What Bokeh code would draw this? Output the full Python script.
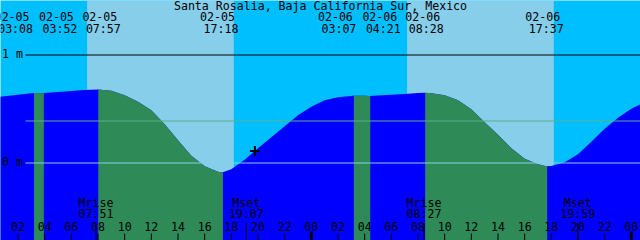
import numpy as np
from bokeh.plotting import figure
from bokeh.models import Range1d, ColumnDataSource
from bokeh.core.properties import value
from bokeh.embed import file_html
from bokeh.resources import INLINE

# ---------------- data ----------------
station = "Santa Rosalia, Baja California Sur, Mexico"
day_names = ["02-05", "02-06"]

# tide level read hourly, hours counted from 02-05 00:00
sample_hours = list(range(0, 50))
sample_heights = [
    0.600, 0.619, 0.632, 0.646, 0.647, 0.657, 0.667, 0.676, 0.681, 0.668,
    0.628, 0.568, 0.489, 0.359, 0.211, 0.068, -0.030, -0.082, -0.057, 0.031,
    0.137, 0.239, 0.341, 0.443, 0.521, 0.581, 0.609, 0.621, 0.622, 0.625,
    0.632, 0.640, 0.648, 0.646, 0.628, 0.581, 0.498, 0.378, 0.262, 0.137,
    0.040, -0.011, -0.028, 0.007, 0.081, 0.197, 0.318, 0.419, 0.503, 0.563,
]

# high / low tide events
event_day = [0, 0, 0, 0, 1, 1, 1, 1]
event_times = ["03:08", "03:52", "07:57", "17:18", "03:07", "04:21", "08:28", "17:37"]
event_types = ["High", "Low", "High", "Low", "High", "Low", "High", "Low"]
event_heights = [0.648, 0.646, 0.681, -0.087, 0.623, 0.620, 0.651, -0.031]

# sun
sun_day = [0, 1]
sunrise_times = ["07:11", "07:11"]
sunset_times = ["18:11", "18:11"]

# moon
moon_day = [0, 0, 1, 1]
moon_names = ["Mrise", "Mset", "Mrise", "Mset"]
moon_times = ["07:51", "19:07", "08:27", "19:59"]

# reference levels (m)
level_values = [0.0, 0.389, 1.0]
level_labels = ["0 m", "", "1 m"]

# hour ticks
tick_hours = list(range(2, 49, 2))
tick_labels = ["%02d" % (h % 24) for h in tick_hours]

now_day, now_time = 0, "19:46"

# ---------------- helpers ----------------
def to_hours(day, hhmm):
    hh, mm = hhmm.split(":")
    return day * 24 + int(hh) + int(mm) / 60.0

W, H = 640, 240
X0_PX = -9.167      # pixel column of 02-05 00:00
PX_PER_H = 13.3333
Y0_PX = 162.5       # pixel row of 0 m
PX_PER_M = 108.0
TXT_DY = -5.0       # baseline correction for text

def hx(px):
    return (px - X0_PX) / PX_PER_H

def my(py):
    return (Y0_PX - py) / PX_PER_M

def ty(py):
    return my(py + TXT_DY)

FONT = value("DejaVu Sans Mono")
FS = "11.6px"

ev_h = [to_hours(d, t) for d, t in zip(event_day, event_times)]
curve_h = np.array(sample_hours + ev_h, dtype=float)
curve_m = np.array(sample_heights + event_heights, dtype=float)
order = np.argsort(curve_h)
curve_h, curve_m = curve_h[order], curve_m[order]

xs0, xs1 = hx(0), hx(W)
ybot, ytop = my(H), my(0)

p = figure(width=W, height=H, x_range=Range1d(xs0, xs1), y_range=Range1d(ybot, ytop),
           output_backend="svg", toolbar_location=None, min_border=0,
           x_axis_location=None, y_axis_location=None, outline_line_color=None,
           background_fill_color="#00BFFF", border_fill_color="#00BFFF")
p.grid.visible = False

# daylight sky
rise_h = [to_hours(d, t) for d, t in zip(sun_day, sunrise_times)]
set_h = [to_hours(d, t) for d, t in zip(sun_day, sunset_times)]
p.quad(left=rise_h, right=set_h, bottom=ybot, top=ytop, fill_color="#87CEEB", line_color=None)

# water: whole area rising colour, falling stretches in sea green
def seg_area(a, b):
    inner = curve_h[(curve_h > a) & (curve_h < b)]
    xs = np.concatenate([[a], inner, [b]])
    ys = np.interp(xs, curve_h, curve_m)
    return xs, ys

xa, ya = seg_area(xs0 - 0.5, xs1 + 0.5)
p.varea(x=xa, y1=ybot, y2=ya, fill_color="#0000FF")
shift = 0.07
bounds = [xs0 - 0.5] + [h + shift for h in ev_h] + [xs1 + 0.5]
for i, et in enumerate(event_types):
    if et == "High":
        xa, ya = seg_area(bounds[i + 1], bounds[i + 2])
        p.varea(x=xa, y1=ybot, y2=ya, fill_color="#2E8B57")

# reference level lines
line_cols = ["#87CEEB", "#5FAE8C", "#000000"]
x_left = hx(25)
for lv, c in zip(level_values, line_cols):
    p.segment(x0=[x_left], y0=[lv], x1=[xs1], y1=[lv], line_color=c, line_width=1)
lab_src = ColumnDataSource(dict(x=[hx(1.5)] * 2,
                                y=[lv + ty(58.5) - my(54.5) for lv, l in zip(level_values, level_labels) if l],
                                t=[l for l in level_labels if l]))
p.text(x="x", y="y", text="t", source=lab_src, text_font=FONT, text_font_size=FS,
       text_color="black", text_align="left", text_baseline="alphabetic")

# hour ticks
p.segment(x0=tick_hours, y0=my(233), x1=tick_hours, y1=my(240), line_color="black", line_width=1)
mid = [h for h in tick_hours if h % 24 == 0]
p.segment(x0=mid, y0=my(231), x1=mid, y1=my(240), line_color="black", line_width=3)
p.text(x=tick_hours, y=ty(230.5), text=tick_labels, text_font=FONT, text_font_size=FS,
       text_color="black", text_align="center", text_baseline="alphabetic")

# moon
moon_h = [to_hours(d, t) for d, t in zip(moon_day, moon_times)]
p.segment(x0=moon_h, y0=my(223), x1=moon_h, y1=my(240), line_color="black", line_width=1)
p.text(x=moon_h, y=ty(207), text=moon_names, text_font=FONT, text_font_size=FS,
       text_color="black", text_align="center", text_baseline="alphabetic")
p.text(x=moon_h, y=ty(218.5), text=moon_times, text_font=FONT, text_font_size=FS,
       text_color="black", text_align="center", text_baseline="alphabetic")

# tide event labels (spread apart to avoid overlap)
label_dx = [-17.5, 17, 6, -1, -14, 14, 2, 0]
ev_src = ColumnDataSource(dict(x=ev_h, d=[day_names[d] for d in event_day], t=event_times,
                               dx=label_dx, dx2=[v - 3.5 for v in label_dx]))
p.text(x="x", y=ty(21), text="d", x_offset="dx2", source=ev_src, text_font=FONT, text_font_size=FS,
       text_color="black", text_align="center", text_baseline="alphabetic")
p.text(x="x", y=ty(33), text="t", x_offset="dx", source=ev_src, text_font=FONT, text_font_size=FS,
       text_color="black", text_align="center", text_baseline="alphabetic")

# title
p.text(x=[(xs0 + xs1) / 2], y=[ty(10.3)], text=[station], text_font=FONT, text_font_size=FS,
       text_color="black", text_align="center", text_baseline="alphabetic")

# current time marker
now_h = to_hours(now_day, now_time)
p.scatter(x=[now_h], y=[float(np.interp(now_h, curve_h, curve_m))], marker="cross", size=10,
          line_color="black", line_width=2)

open("out.html", "w").write(file_html(p, INLINE))
